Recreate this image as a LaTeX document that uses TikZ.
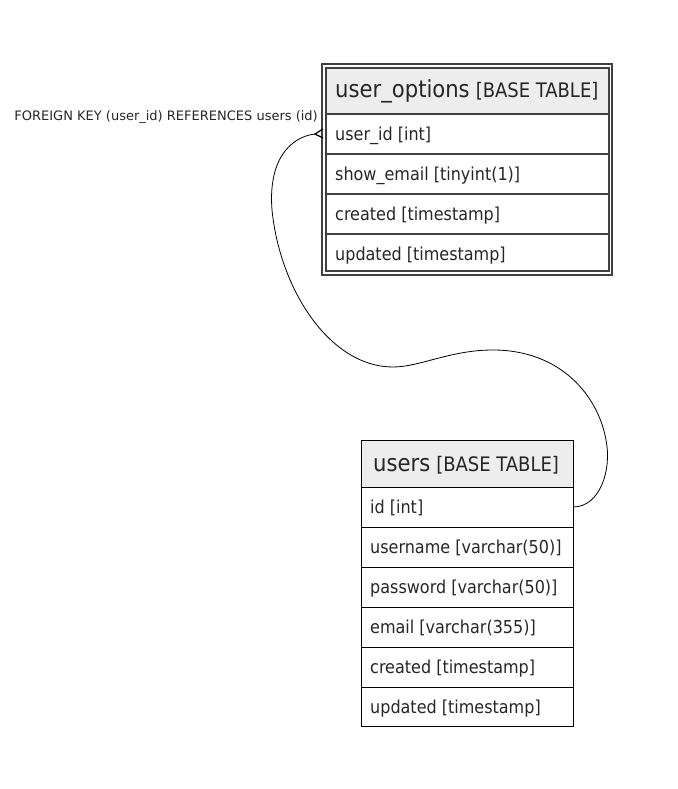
\documentclass[tikz,border=0pt]{standalone}
\usepackage{fontspec}
\setmainfont{DejaVu Sans}
\newfontfamily\condfont{DejaVu Sans Condensed}
\begin{document}
\begin{tikzpicture}[x=1pt,y=-1pt,
  rowtxt/.style={anchor=base west, inner sep=0pt, font=\condfont\fontsize{17.8}{20}\selectfont, text=black!85},
  hdrfill/.style={fill=black!7},
  hdrtxt/.style={anchor=base west, inner sep=0pt, text=black!85},
  fk/.style={line width=0.8pt, black}
]
\newcommand{\bigname}[1]{{\condfont\fontsize{23.5}{26}\selectfont #1}}
\newcommand{\basetag}{{\condfont\fontsize{20}{22}\selectfont [BASE TABLE]}}
\useasboundingbox (0,0) rectangle (677,789);
% ---------- user_options ----------
\draw[line width=1.2pt, black!75] (322,64) rectangle (612,275);
\path[hdrfill] (326,68) rectangle (609,114);
\draw[line width=1.2pt, black!75] (326,68) rectangle (609,271);
\foreach \yy in {114,154,194,234} \draw[line width=1.6pt, black!75] (326,\yy) -- (609,\yy);
\node[hdrtxt] (uoh) at (335,98) {\bigname{user\_options}\hspace{6pt}\basetag};
\node[rowtxt] (uo1) at (335,140) {user\_id [int]};
\node[rowtxt] (uo2) at (335,180) {show\_email [tinyint(1)]};
\node[rowtxt] (uo3) at (335,220) {created [timestamp]};
\node[rowtxt] (uo4) at (335,260) {updated [timestamp]};
% ---------- users ----------
\path[hdrfill] (361,440) rectangle (573,487);
\draw[line width=0.9pt, black] (361,440) rectangle (573,726);
\foreach \yy in {487,527,567,607,647,687} \draw[line width=0.9pt, black] (361,\yy) -- (573,\yy);
\node[hdrtxt] (uh) at (373,471) {\bigname{users}\hspace{6pt}\basetag};
\node[rowtxt] (u1) at (370,513) {id [int]};
\node[rowtxt] (u2) at (370,553) {username [varchar(50)]};
\node[rowtxt] (u3) at (370,593) {password [varchar(50)]};
\node[rowtxt] (u4) at (370,633) {email [varchar(355)]};
\node[rowtxt] (u5) at (370,673) {created [timestamp]};
\node[rowtxt] (u6) at (370,713) {updated [timestamp]};
\coordinate (uE) at (573,507);
% ---------- foreign key ----------
\coordinate (tip) at (315,134);
\coordinate (c1) at (323,129);
\coordinate (c2) at (323,138);
\draw[fk] (uE) .. controls (600,507) and (612,470) .. (606,440)
  .. controls (598,395) and (560,350) .. (493,350)
  .. controls (450,350) and (420,367) .. (393,367)
  .. controls (330,367) and (280,290) .. (272,210)
  .. controls (268,160) and (290,137) .. (tip);
\draw[fk, line width=1.2pt] (c1) -- (tip) -- (c2);
\node[anchor=base east, inner sep=0pt, text=black!85, font=\fontsize{13}{14}\selectfont] (fkl) at (318,121) {FOREIGN KEY (user\_id) REFERENCES users (id)};
\end{tikzpicture}
\end{document}
